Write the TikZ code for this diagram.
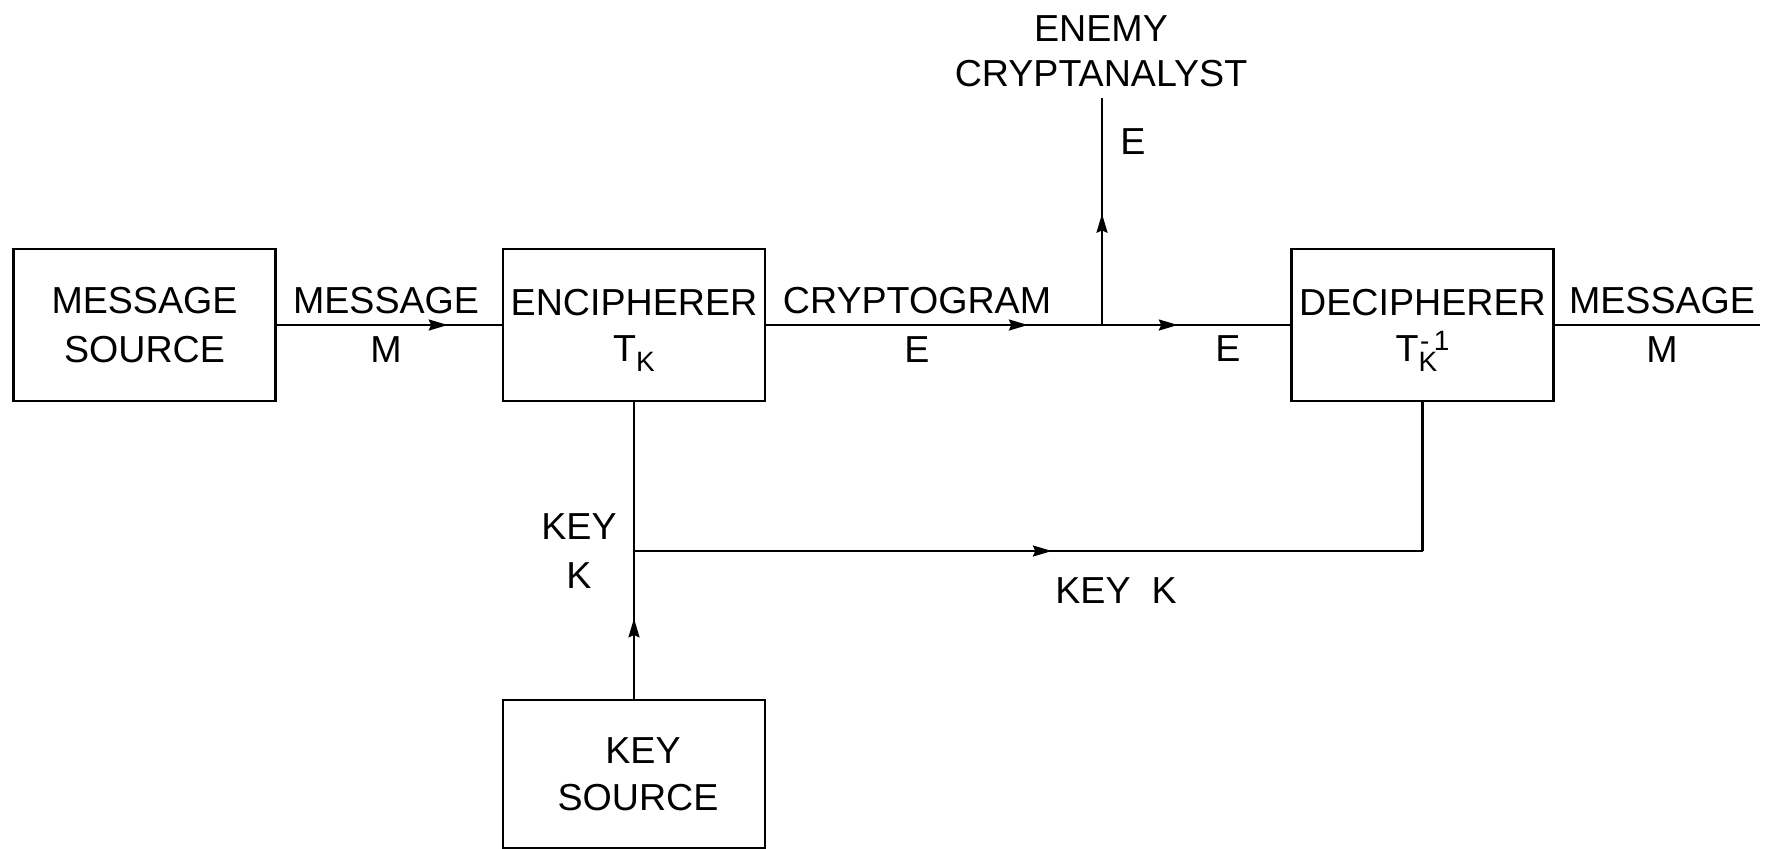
\documentclass[tikz,border=0pt]{standalone}
\usepackage{fontspec}
\setmainfont{Liberation Sans}
\usetikzlibrary{arrows.meta,decorations.markings}
\newcommand\myss{\fontsize{14pt}{14pt}\selectfont}
\tikzset{
 every node/.style={font=\fontsize{18.8pt}{24.5pt}\selectfont, inner sep=0pt, outer sep=0pt},
 blk/.style={draw, line width=1.1pt, minimum width=131pt, minimum height=76pt, align=center},
 lbl/.style={align=center},
 wire/.style={line width=1.1pt},
 arr/.style={postaction={decorate}, decoration={markings, mark=at position #1 with {\arrow{Stealth[length=9.5pt,width=5.5pt,inset=1.2pt]}}}},
}
\begin{document}
\begin{tikzpicture}[x=0.5pt,y=-0.5pt]
\useasboundingbox (0,0) rectangle (1773,848);
% boxes
\node[blk] (ms) at (144.5,325) {MESSAGE\\SOURCE};
\node[blk] (enc) at (634,325) {ENCIPHERER\\[-1.5pt]T\smash{\raisebox{-5pt}{\myss K}}};
\node[blk] (dec) at (1422.5,325) {DECIPHERER\\[-1.5pt]T\smash{\rlap{\raisebox{-5pt}{\myss K}}\raisebox{5.5pt}{\myss\kern0.8pt -\kern2.2pt 1}}};
\node[blk, minimum height=74pt] (ks) at (634,774) {\hspace*{9pt}KEY\\[-1pt]\hspace*{4pt}SOURCE};
% points
\coordinate (br) at (1102,325);
\coordinate (en) at (1102,98);
\coordinate (jn) at (634,551);
\coordinate (cr) at (1422.5,551);
\coordinate (out) at (1760,325);
% connectors
\draw[wire, arr=0.757] (ms) -- (enc);
\draw[wire, arr=0.78] (enc) -- (br);
\draw[wire, arr=0.40] (br) -- (dec);
\draw[wire, arr=0.49] (br) -- (en);
\draw[wire, arr=0.273] (ks) -- (enc);
\draw[wire, arr=0.53] (jn) -- (cr);
\draw[wire] (cr) -- (dec.south);
\draw[wire] (dec) -- (out);
% labels
\node[lbl] (l1) at (386,325) {MESSAGE\\M};
\node[lbl] (l2) at (917,325) {CRYPTOGRAM\\E};
\node (l3) at (1228,349) {E};
\node (l4) at (1133,142) {E};
\node[lbl] (l5) at (579,551) {KEY\\K};
\node[lbl] (l6) at (1662,325) {MESSAGE\\M};
\node (l7) at (1116,591) {KEY\ \ K};
\node[lbl] (l8) at (1101,51.5) {ENEMY\\[-2pt]CRYPTANALYST};
\end{tikzpicture}
\end{document}
